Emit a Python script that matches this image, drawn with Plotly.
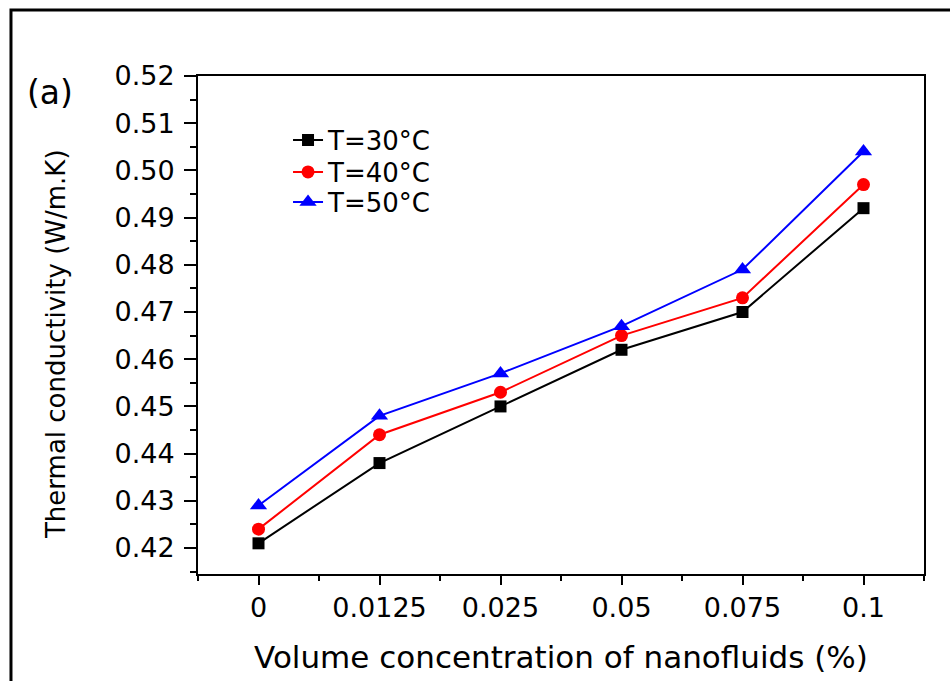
import plotly.graph_objects as go

categories = ["0", "0.0125", "0.025", "0.05", "0.075", "0.1"]
t30 = [0.421, 0.438, 0.450, 0.462, 0.470, 0.492]
t40 = [0.424, 0.444, 0.453, 0.465, 0.473, 0.497]
t50 = [0.429, 0.448, 0.457, 0.467, 0.479, 0.504]
series_names = ["T=30°C", "T=40°C", "T=50°C"]
y_ticks = [0.42, 0.43, 0.44, 0.45, 0.46, 0.47, 0.48, 0.49, 0.50, 0.51, 0.52]

FONT = "DejaVu Sans"
idx = list(range(len(categories)))

fig = go.Figure()
styles = [
    ("black", "square", 12, "legend"),
    ("red", "circle", 13, "legend2"),
    ("blue", "triangle-up", 15, "legend3"),
]
for name, vals, (col, sym, sz, lg) in zip(series_names, [t30, t40, t50], styles):
    fig.add_trace(go.Scatter(
        x=idx, y=vals, name=name, mode="lines+markers",
        line=dict(color=col, width=2),
        marker=dict(color=col, symbol=sym, size=sz, line=dict(width=0)),
        legend=lg,
    ))

leg_common = dict(x=0.124, xanchor="left", yanchor="middle",
                  bgcolor="rgba(0,0,0,0)", font=dict(size=26, family=FONT))

fig.update_layout(
    width=950, height=681,
    margin=dict(l=198, r=26, t=76, b=107),
    paper_bgcolor="white", plot_bgcolor="white",
    font=dict(family=FONT, color="black", size=26),
    showlegend=True,
    legend=dict(y=0.8715, **leg_common),
    legend2=dict(y=0.8072, **leg_common),
    legend3=dict(y=0.747, **leg_common),
    xaxis=dict(
        range=[-0.5, 5.5], tickmode="array", tickvals=idx, ticktext=categories,
        showline=True, linecolor="black", linewidth=2, mirror=True,
        ticks="outside", ticklen=9, tickwidth=2, tickcolor="black",
        showgrid=False, zeroline=False,
        tickfont=dict(size=27, family=FONT),
        ticklabelstandoff=0,
        minor=dict(tickmode="linear", tick0=0.5, dtick=1, ticks="outside",
                   ticklen=5, tickwidth=2, tickcolor="black", showgrid=False),
        title=dict(text="Volume concentration of nanofluids (%)",
                   font=dict(size=31, family=FONT), standoff=24),
    ),
    yaxis=dict(
        range=[0.4145, 0.52], tickmode="array", tickvals=y_ticks,
        tickformat=".2f",
        showline=True, linecolor="black", linewidth=2, mirror=True,
        ticks="outside", ticklen=12, tickwidth=2, tickcolor="black",
        showgrid=False, zeroline=False,
        tickfont=dict(size=27, family=FONT),
        ticklabelstandoff=4,
        minor=dict(tickmode="linear", tick0=0.415, dtick=0.01, ticks="outside",
                   ticklen=6, tickwidth=2, tickcolor="black", showgrid=False),
    ),
    shapes=[dict(type="rect", xref="paper", yref="paper",
                 x0=-0.2576, x1=1.1, y0=-0.3, y1=1.1325,
                 line=dict(color="black", width=3), fillcolor="rgba(0,0,0,0)",
                 layer="below")],
    annotations=[
        dict(text="Thermal conductivity (W/m.K)", textangle=-90,
             xref="paper", yref="paper", x=-0.1956, y=0.4618,
             xanchor="center", yanchor="middle", showarrow=False,
             font=dict(size=26, family=FONT)),
        dict(text="(a)", xref="paper", yref="paper", x=-0.2039, y=0.9659,
             xanchor="center", yanchor="middle", showarrow=False,
             font=dict(size=33, family=FONT)),
    ],
)

fig.write_html("out.html")
